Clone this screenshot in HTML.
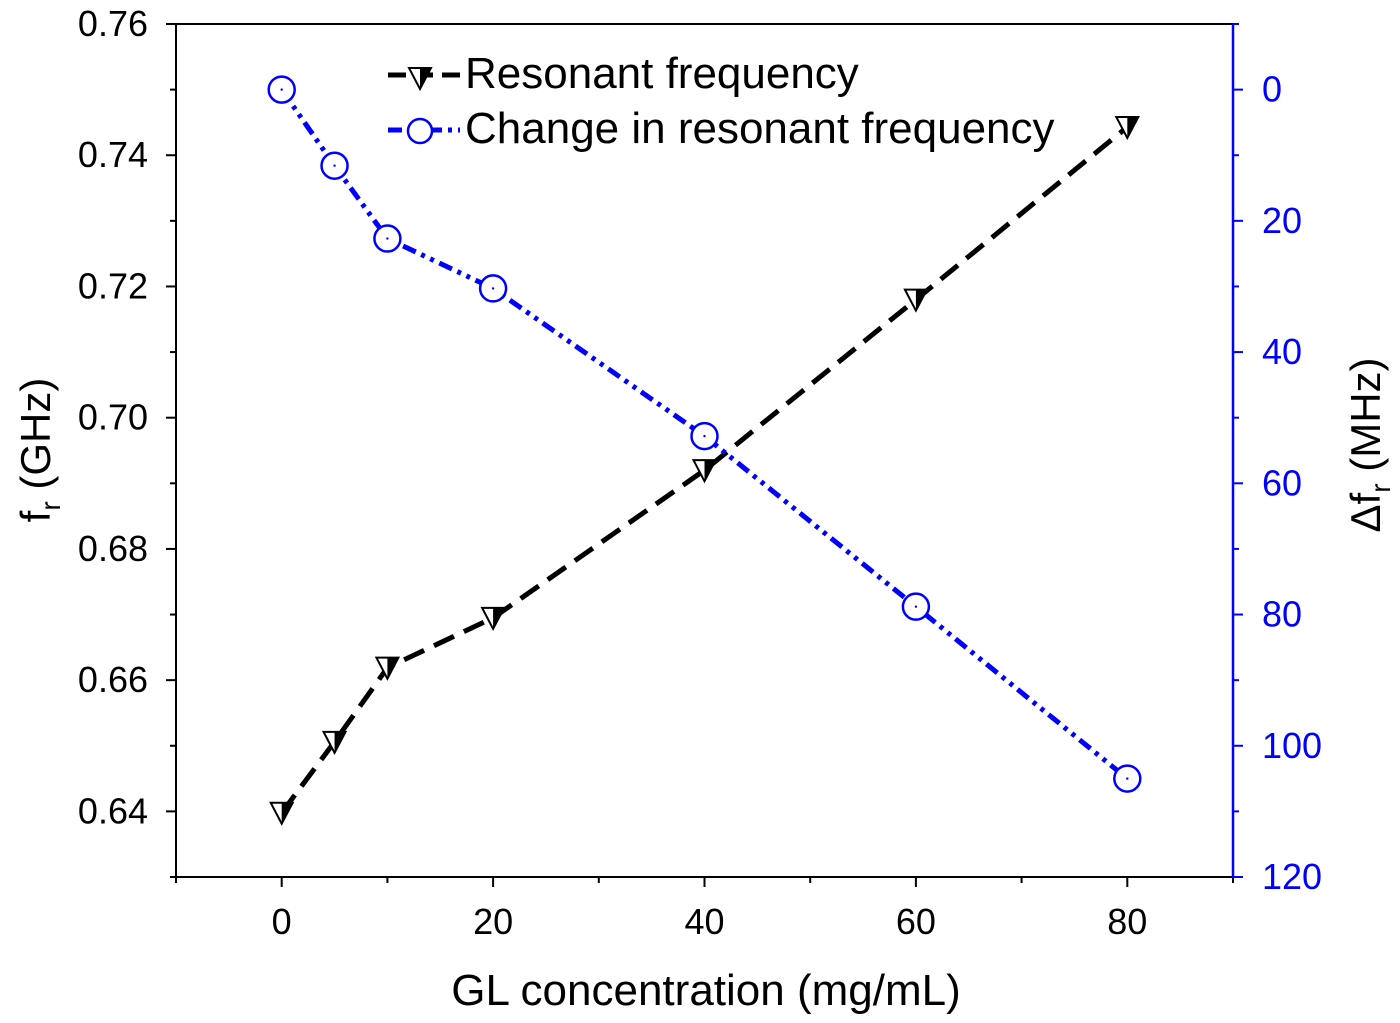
<!DOCTYPE html>
<html><head><meta charset="utf-8"><style>
body{margin:0;background:#fff}
svg{display:block}
text{font-family:"Liberation Sans",Arial,sans-serif}
</style></head><body>
<svg id="chart" width="1400" height="1023" viewBox="0 0 1400 1023">
<g id="axes"></g>
<g id="series"></g>
<g id="legend">
<line x1="388" y1="75" x2="460" y2="75" stroke="#000" stroke-width="5" stroke-dasharray="18,9"/>
<g transform="translate(420,78)">
<polygon points="-11,-10 11,-10 0,11" fill="#fff" stroke="#000" stroke-width="2"/>
<polygon points="0,-10 11,-10 0,11" fill="#000"/>
</g>
<text x="465" y="88" font-size="44" fill="#000">Resonant frequency</text>
<line x1="388" y1="130" x2="460" y2="130" stroke="#0000ff" stroke-width="5" stroke-dasharray="14,6,4,6,4,6"/>
<circle cx="420" cy="131" r="12" fill="#fff" stroke="#0000ff" stroke-width="2.5"/>
<text x="465" y="143" font-size="44" fill="#000">Change in resonant frequency</text>
</g>
</svg>
<script>
const xValues=[0,5,10,20,40,60,80];
const freqValues=[0.6398,0.6506,0.6619,0.6695,0.6920,0.7180,0.7443];
const deltaValues=[0,11.6,22.7,30.3,52.8,78.8,105];
const xTicks=[0,20,40,60,80];
const leftTicks=[0.64,0.66,0.68,0.70,0.72,0.74,0.76];
const rightTicks=[0,20,40,60,80,100,120];
const NS="http://www.w3.org/2000/svg";
const L=176,R=1233,T=24,B=877;
const xs=v=>L+(v+10)/100*(R-L);
const yl=v=>T+(0.76-v)/0.13*(B-T);
const yr=v=>T+(v+10)/130*(B-T);
function mk(tag,attrs,parent,txt){const e=document.createElementNS(NS,tag);for(const k in attrs)e.setAttribute(k,attrs[k]);if(txt!==undefined)e.textContent=txt;parent.appendChild(e);return e;}
const ax=document.getElementById('axes');
let e;
e=mk('rect',{x:L,y:T,width:R-L,height:B-T,fill:'none',stroke:'#000','stroke-width':2},ax);


e=mk('line',{x1:R,y1:T,x2:R,y2:B,stroke:'#0000ff','stroke-width':2.5},ax);


for(let v=-10;v<=90;v+=10){const big=v%20===0;
e=mk('line',{x1:xs(v),y1:B,x2:xs(v),y2:B+(big?10:6),stroke:'#000','stroke-width':2},ax);

}
xTicks.forEach(v=>{e=mk('text',{x:xs(v),y:934,'font-size':36,'text-anchor':'middle'},ax,String(v));

});
for(let i=0;i<=13;i++){const v=0.63+i*0.01;const big=i%2===1;
e=mk('line',{x1:L,y1:yl(v),x2:L-(big?10:6),y2:yl(v),stroke:'#000','stroke-width':2},ax);

}
leftTicks.forEach(v=>{e=mk('text',{x:148,y:yl(v)+12,'font-size':36,'text-anchor':'end'},ax,v.toFixed(2));

});
for(let v=-10;v<=120;v+=10){const big=v%20===0;
e=mk('line',{x1:R,y1:yr(v),x2:R+(big?10:6),y2:yr(v),stroke:'#0000ff','stroke-width':2},ax);

}
rightTicks.forEach(v=>{e=mk('text',{x:1262,y:yr(v)+12,'font-size':36,fill:'#0000ff'},ax,String(v));

});
e=mk('text',{x:706,y:1005,'font-size':44,'text-anchor':'middle'},ax,'GL concentration (mg/mL)');


e=mk('text',{transform:'translate(50,450) rotate(-90)','font-size':42,'text-anchor':'middle'},ax);


e.innerHTML='f<tspan font-size="28" dy="10">r</tspan><tspan dy="-10"> (GHz)</tspan>';
e=mk('text',{transform:'translate(1380,445) rotate(-90)','font-size':42,'text-anchor':'middle'},ax);


e.innerHTML='Δf<tspan font-size="28" dy="10">r</tspan><tspan dy="-10"> (MHz)</tspan>';
const sg=document.getElementById('series');
e=mk('polyline',{points:xValues.map((x,i)=>xs(x)+','+yl(freqValues[i])).join(' '),fill:'none',stroke:'#000','stroke-width':5,'stroke-dasharray':'22,11'},sg);


e=mk('polyline',{points:xValues.map((x,i)=>xs(x)+','+yr(deltaValues[i])).join(' '),fill:'none',stroke:'#0000ff','stroke-width':5,'stroke-dasharray':'14,6,4,6,4,6'},sg);


xValues.forEach((x,i)=>{
const g=mk('g',{transform:`translate(${xs(x)},${yl(freqValues[i])})`},sg);


mk('polygon',{points:'-11,-10 11,-10 0,11',fill:'#fff',stroke:'#000','stroke-width':2},g);
mk('polygon',{points:'0,-10 11,-10 0,11',fill:'#000'},g);
const c=mk('g',{transform:`translate(${xs(x)},${yr(deltaValues[i])})`},sg);


mk('circle',{cx:0,cy:0,r:13,fill:'#fff',stroke:'#0000ff','stroke-width':2.5},c);
mk('circle',{cx:0,cy:0,r:1.2,fill:'#0000ff'},c);
});
</script>
</body></html>
